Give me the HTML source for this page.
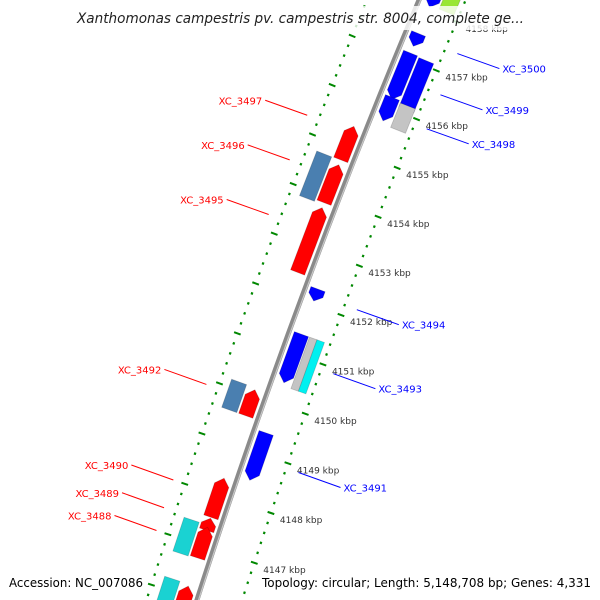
<!DOCTYPE html>
<html><head><meta charset="utf-8"><style>
html,body{margin:0;padding:0;background:#fff;width:600px;height:600px;overflow:hidden;}
svg{display:block;}
text{font-family:"DejaVu Sans","Liberation Sans",sans-serif;}
</style></head><body>
<svg id="chart" width="600" height="600" viewBox="0 0 600 600" xmlns="http://www.w3.org/2000/svg" style="overflow:hidden">
<g id="ticks"></g>
<path id="backbone" fill="none" stroke="#8a8a8a" stroke-width="5"></path>
<path id="backbone-hi" fill="none" stroke="#c8c8c8" stroke-width="1.2"></path>
<g id="genes"></g>
<g id="labels"></g>
<rect x="68" y="6" width="466" height="24" fill="#fff" opacity="0.8"></rect>
<text x="77" y="23" font-size="14" font-style="italic" fill="#222" textLength="447" lengthAdjust="spacingAndGlyphs">Xanthomonas campestris pv. campestris str. 8004, complete ge...</text>
<text x="9" y="587" font-size="12.5" fill="#000" textLength="134" lengthAdjust="spacingAndGlyphs">Accession: NC_007086</text>
<text x="262" y="587" font-size="12.5" fill="#000" textLength="329" lengthAdjust="spacingAndGlyphs">Topology: circular; Length: 5,148,708 bp; Genes: 4,331</text>
</svg>
<script>
// data
const geneNames  = ['g0','lime','B1','B2','B3','grayA','B4','R1','R2','sb1','R3','B5','B6','gray2','cyan2','R4','sb2','B7','R5','R6','R7','cy3','cy4','R8'];
const geneStarts = [4158.06,4158.10,4157.26,4156.17,4156.09,4155.67,4155.73,4154.75,4153.88,4153.84,4152.47,4152.07,4150.42,4150.36,4150.36,4149.59,4149.59,4148.46,4147.56,4147.30,4146.75,4146.73,4145.40,4145.40];
const geneEnds   = [4158.60,4158.60,4157.52,4157.12,4157.10,4156.17,4156.21,4155.43,4154.65,4154.74,4153.78,4152.31,4151.40,4151.40,4151.40,4150.11,4150.15,4149.41,4148.34,4147.54,4147.36,4147.40,4146.23,4146.19];
const geneTracks = ['fi','fo','fi','fi','fo','fo','fi','ri','ri','ro','ri','fi','fi','fm','fc','ri','ro','fi','ri','ri','ri','ro','ro','ri'];
const geneArrows = ['down','none','down','down','none','none','down','up','up','none','up','down','down','none','none','up','none','down','up','up','up','none','none','up'];
const geneColors = ['#0000ff','#99e633','#0000ff','#0000ff','#0000ff','#c4c4c4','#0000ff','#ff0000','#ff0000','#4a7fb0','#ff0000','#0000ff','#0000ff','#c4c4c4','#00f0f0','#ff0000','#4a7fb0','#0000ff','#ff0000','#ff0000','#ff0000','#1ad2d2','#1ad2d2','#ff0000'];
const tickLabelKbp = [4147,4148,4149,4150,4151,4152,4153,4154,4155,4156,4157,4158];
const labelNames = ['XC_3497','XC_3496','XC_3495','XC_3492','XC_3490','XC_3489','XC_3488','XC_3500','XC_3499','XC_3498','XC_3494','XC_3493','XC_3491'];
const labelKbp   = [4155.3,4154.4,4153.3,4149.9,4148.0,4147.45,4147.0,4157.45,4156.6,4155.9,4152.2,4150.9,4148.9];
const labelSide  = ['l','l','l','l','l','l','l','r','r','r','r','r','r'];

// geometry
const CX=7337, CY=2902, R0=7502, NS="http://www.w3.org/2000/svg";
function ang(k){return (-160.11+(k-4151)*0.4033)*Math.PI/180;}
function pt(k,r){const a=ang(k);return [CX+r*Math.cos(a),CY+r*Math.sin(a)];}
const trackR={fi:[7482,7497],fo:[7464,7480],fm:[7473,7481],fc:[7465,7473],ri:[7507,7522],ro:[7524,7540]};
function arc(k1,k2,r){let d='';for(let i=0;i<=20;i++){const p=pt(k1+(k2-k1)*i/20,r);d+=(i?'L':'M')+p[0].toFixed(1)+' '+p[1].toFixed(1);}return d;}

document.getElementById('backbone').setAttribute('d',arc(4145.0,4159.0,R0));
document.getElementById('backbone-hi').setAttribute('d',arc(4145.0,4159.0,R0-1.5));

// ticks
const tg=document.getElementById('ticks');
[7459,7550].forEach(function(rr){
  for(let i=0;i<=70;i++){
    const k=4145.0+i*0.2;const major=Math.abs(k-Math.round(k))<0.01;
    const h=major?3.5:1.1;const a=pt(k,rr-h),b=pt(k,rr+h);
    const l=document.createElementNS(NS,'line');
    
    
    l.setAttribute('x1',a[0]);l.setAttribute('y1',a[1]);l.setAttribute('x2',b[0]);l.setAttribute('y2',b[1]);
    l.setAttribute('stroke','#008800');l.setAttribute('stroke-width',major?2:2.4);
    tg.appendChild(l);
  }
});
tickLabelKbp.forEach(function(k){
  const p=pt(k,7459);const t=document.createElementNS(NS,'text');
  
  
  t.setAttribute('x',p[0]+9);t.setAttribute('y',p[1]+10);t.setAttribute('font-size','9');t.setAttribute('fill','#333');
  t.textContent=k+' kbp';tg.appendChild(t);
});

// genes
const gg=document.getElementById('genes');
geneNames.forEach(function(n,i){
  const r=trackR[geneTracks[i]],s=geneStarts[i],e=geneEnds[i],dir=geneArrows[i];
  const ah=Math.min(0.14,(e-s)*0.5),rm=(r[0]+r[1])/2;
  let pts=[];
  if(dir==='up'){pts=[pt(s,r[0]),pt(e-ah,r[0]),pt(e,rm),pt(e-ah,r[1]),pt(s,r[1])];}
  else if(dir==='down'){pts=[pt(s+ah,r[0]),pt(e,r[0]),pt(e,r[1]),pt(s+ah,r[1]),pt(s,rm)];}
  else{pts=[pt(s,r[0]),pt(e,r[0]),pt(e,r[1]),pt(s,r[1])];}
  const p=document.createElementNS(NS,'polygon');
  
  
  p.setAttribute('points',pts.map(q=>q[0].toFixed(1)+','+q[1].toFixed(1)).join(' '));
  p.setAttribute('fill',geneColors[i]);p.setAttribute('stroke','rgba(0,0,0,0.18)');p.setAttribute('stroke-width','0.8');
  gg.appendChild(p);
});

// labels
const lg=document.getElementById('labels');
labelNames.forEach(function(n,i){
  const left=labelSide[i]==='l';
  const a=pt(labelKbp[i],left?7562:7446);
  const b=[a[0]+(left?-42:42),a[1]+(left?-15:15)];
  const l=document.createElementNS(NS,'line');
  
  
  l.setAttribute('x1',a[0]);l.setAttribute('y1',a[1]);l.setAttribute('x2',b[0]);l.setAttribute('y2',b[1]);
  l.setAttribute('stroke',left?'#ff0000':'#0000ff');l.setAttribute('stroke-width','1');
  lg.appendChild(l);
  const t=document.createElementNS(NS,'text');
  
  
  t.setAttribute('x',left?b[0]-3:b[0]+3);t.setAttribute('y',b[1]+4);
  t.setAttribute('text-anchor',left?'end':'start');t.setAttribute('font-size','10');
  t.setAttribute('fill',left?'#ff0000':'#0000ff');t.textContent=n;lg.appendChild(t);
});
</script>
</body></html>
